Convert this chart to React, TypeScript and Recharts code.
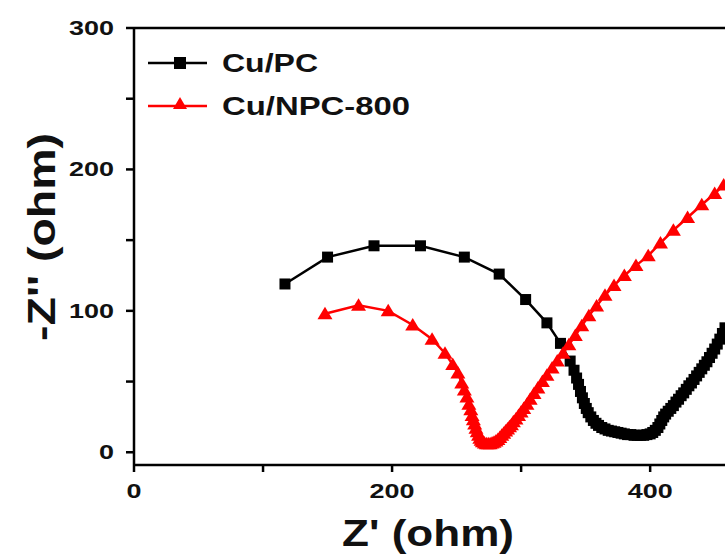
import * as React from "react";
import {
  ScatterChart,
  Scatter,
  XAxis,
  YAxis,
  ReferenceLine,
} from "recharts";

// Z' (ohm) and -Z'' (ohm)
const cuPcZre = [
  117, 150, 186, 222, 256, 283, 303.5, 320, 330.5, 338, 341, 343, 344.5, 346,
  347.5, 349, 350.5, 352, 354, 356, 358, 360, 362.5, 365, 367.5, 370, 372.5, 375,
  377.5, 380, 382.5, 385, 387.5, 390, 392.5, 395, 397.5, 400, 402, 404, 406,
  407.5, 409, 410.5, 412, 414, 416, 418, 420, 422, 424, 426, 428, 430, 432, 434,
  436, 438, 440, 442, 444, 446, 448, 450, 452, 454, 456, 458,
];
const cuPcZim = [
  119, 138, 146, 146, 138, 126, 108, 91.5, 77, 64.5, 58, 52.5, 48, 43, 38.5,
  34.5, 31, 28, 25, 22.5, 20.5, 19, 17.5, 16.5, 15.5, 15, 14.5, 14, 13.5, 13,
  12.5, 12.5, 12, 12, 12, 12, 12.5, 13, 14, 15.5, 17.5, 20, 22.5, 25, 27, 29,
  31, 33, 35.5, 37.5, 40, 42, 44.5, 47, 49, 51.5, 54, 56.5, 59, 61.5, 64, 67,
  70, 73, 76.5, 80, 84, 88,
];

const npcZre = [
  148, 174, 197, 216, 231, 241, 247, 251, 254, 256, 258, 259.5, 261, 262, 263,
  264, 265, 266, 267, 268, 269, 270, 271.5, 273, 274.5, 276, 277.5, 279, 280.5,
  282, 283.5, 285, 286.5, 288, 289.5, 291, 292.5, 294, 296, 298, 300, 302, 304.5,
  307, 310, 313, 316.5, 320, 324, 328, 332.5, 337, 342, 347, 352.5, 358.5, 365,
  372, 380, 389, 398.5, 408, 418, 429, 440, 450, 457,
];
const npcZim = [
  98, 104, 100, 90, 80, 70, 62, 56, 49, 44, 39, 34, 30, 26, 23, 20, 17, 14.5,
  12, 10, 8.5, 7.5, 6.5, 6, 6, 6, 6.5, 7, 8, 9, 10.5, 12, 13.5, 15, 16.5, 18,
  19.5, 21.5, 23.5, 26, 28.5, 31, 34, 37.5, 41.5, 45.5, 50, 54.5, 59.5, 64.5,
  70, 76, 82.5, 89.5, 96.5, 103.5, 111, 118, 125, 132, 139, 148, 157, 166, 175,
  183, 189,
];

const xTicks = [0, 100, 200, 300, 400];
const yTicks = [0, 50, 100, 150, 200, 250, 300];
const xLabeled = [0, 200, 400];
const yLabeled = [0, 100, 200, 300];

const seriesNames = ["Cu/PC", "Cu/NPC-800"];

const cuPcData = cuPcZre.map((x, i) => ({ x, y: cuPcZim[i] }));
const npcData = npcZre.map((x, i) => ({ x, y: npcZim[i] }));

const FONT = "'Liberation Sans', Arial, sans-serif";

function labelWidth(s: string, per: number) {
  return s.length * per;
}

function XTick(props: any) {
  const { x, y, payload } = props;
  const v = payload.value;
  const s = String(v);
  return (
    <g>
      <line x1={x} x2={x} y1={y - 8} y2={y - 1} stroke="#000" strokeWidth={2.5} />
      {xLabeled.includes(v) && (
        <text
          x={x}
          y={y + 25}
          textAnchor="middle"
          fontFamily={FONT}
          fontWeight="bold"
          fontSize={21}
          fill="#111"
          textLength={labelWidth(s, 15)}
          lengthAdjust="spacingAndGlyphs"
        >
          {s}
        </text>
      )}
    </g>
  );
}

function YTick(props: any) {
  const { y, payload } = props;
  const v = payload.value;
  const s = String(v);
  return (
    <g>
      <line x1={126} x2={134} y1={y} y2={y} stroke="#000" strokeWidth={2.5} />
      {yLabeled.includes(v) && (
        <text
          x={114}
          y={y + 7}
          textAnchor="end"
          fontFamily={FONT}
          fontWeight="bold"
          fontSize={21}
          fill="#111"
          textLength={labelWidth(s, 15)}
          lengthAdjust="spacingAndGlyphs"
        >
          {s}
        </text>
      )}
    </g>
  );
}

const SquareMark = (p: any) => (
  <rect x={p.cx - 5.5} y={p.cy - 5.5} width={11} height={11} fill="#000" />
);

const TriMark = (p: any) => (
  <polygon
    points={`${p.cx},${p.cy - 7} ${p.cx - 7.5},${p.cy + 5.5} ${p.cx + 7.5},${p.cy + 5.5}`}
    fill="#ff0000"
  />
);

export default function App() {
  return (
    <div style={{ position: "fixed", left: 0, top: 0, width: 725, height: 558, background: "#fff" }}>
      <ScatterChart
        width={725}
        height={558}
        margin={{ top: 28, right: 0, bottom: 0, left: 0 }}
      >
        <XAxis
          type="number"
          dataKey="x"
          domain={[0, 458]}
          ticks={xTicks}
          allowDataOverflow
          height={93}
          axisLine={{ stroke: "#000", strokeWidth: 2.5 }}
          tickLine={false}
          tick={<XTick />}
          interval={0}
        />
        <YAxis
          type="number"
          dataKey="y"
          domain={[-9, 300]}
          ticks={yTicks}
          allowDataOverflow
          width={134}
          axisLine={{ stroke: "#000", strokeWidth: 2.5 }}
          tickLine={false}
          tick={<YTick />}
          interval={0}
        />
        <ReferenceLine y={300} stroke="#000" strokeWidth={2.5} />
        <Scatter
          name={seriesNames[0]}
          data={cuPcData}
          line={{ stroke: "#000", strokeWidth: 2.5 }}
          shape={SquareMark}
          isAnimationActive={false}
        />
        <Scatter
          name={seriesNames[1]}
          data={npcData}
          line={{ stroke: "#ff0000", strokeWidth: 2.5 }}
          shape={TriMark}
          isAnimationActive={false}
        />
      </ScatterChart>
      <svg
        width={725}
        height={558}
        style={{ position: "absolute", left: 0, top: 0, pointerEvents: "none" }}
      >
        {/* legend */}
        <line x1={148} x2={207} y1={63} y2={63} stroke="#000" strokeWidth={2.5} />
        <rect x={174} y={57} width={12} height={12} fill="#000" />
        <text x={222} y={72} fontFamily={FONT} fontWeight="bold" fontSize={25} fill="#111" textLength={96} lengthAdjust="spacingAndGlyphs">
          {seriesNames[0]}
        </text>
        <line x1={148} x2={207} y1={106} y2={106} stroke="#ff0000" strokeWidth={2.5} />
        <polygon points="180,97 173,109 187,109" fill="#ff0000" />
        <text x={222} y={115} fontFamily={FONT} fontWeight="bold" fontSize={25} fill="#111" textLength={188} lengthAdjust="spacingAndGlyphs">
          {seriesNames[1]}
        </text>
        {/* axis titles */}
        <text x={428} y={546} textAnchor="middle" fontFamily={FONT} fontWeight="bold" fontSize={36} fill="#111" textLength={172} lengthAdjust="spacingAndGlyphs">
          Z' (ohm)
        </text>
        <text
          x={0}
          y={0}
          transform="translate(55,237) rotate(-90)"
          textAnchor="middle"
          fontFamily={FONT}
          fontWeight="bold"
          fontSize={38}
          fill="#111"
          textLength={208}
          lengthAdjust="spacingAndGlyphs"
        >
          -Z'' (ohm)
        </text>
      </svg>
    </div>
  );
}
